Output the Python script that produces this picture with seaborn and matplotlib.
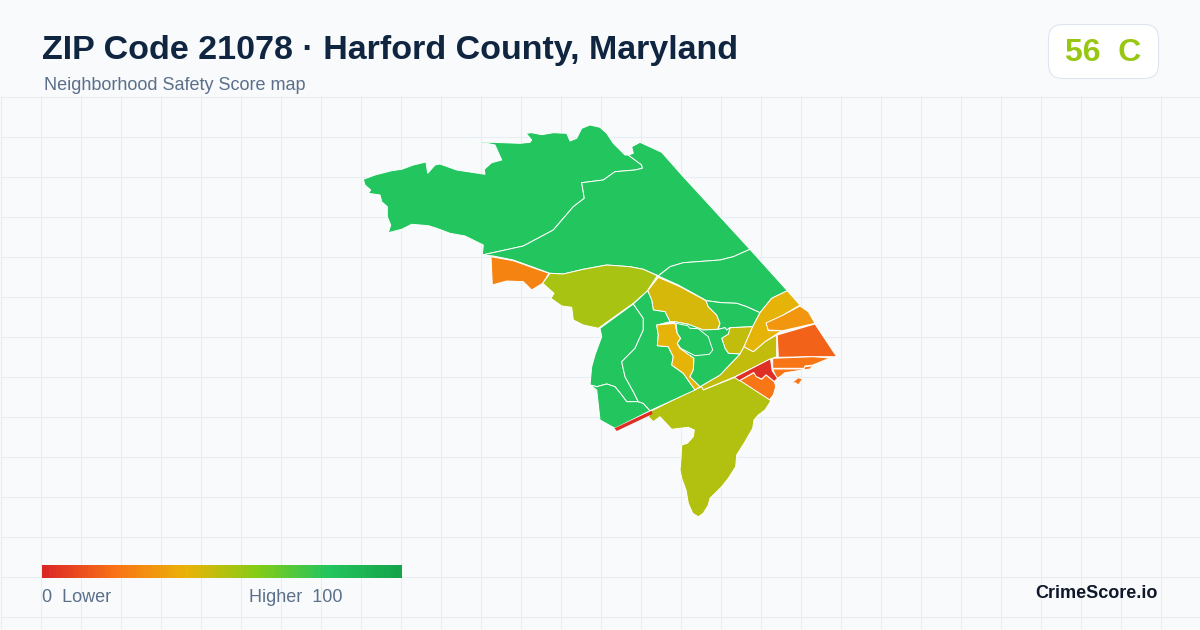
import numpy as np
import matplotlib
matplotlib.use("Agg")
import matplotlib.pyplot as plt
from matplotlib.patches import FancyBboxPatch, Rectangle
import seaborn as sns

# map outlines, in picture pixels
north_west = [(363.3,179.3),(375,175),(391.7,170.7),(401.7,169.3),(413.3,165),(426,162),(427.7,173.3),(435,165),(440,164),(456.7,170),(485,174.3),(484.3,169.3),(491.7,162.7),(501.7,160),(495,145),(486.7,143.3),(476,143.3),(481.7,142),(503.3,142.7),(520,143.3),(530,142.3),(531.7,140),(526,133.3),(531.7,132.7),(541.7,134.7),(553.3,132.7),(566.7,133.3),(570,141),(576.7,138.3),(581.7,128.3),(590,125),(600,127.3),(606.7,133.3),(613.3,143.3),(625,155),(628.3,155),(641.7,165),(642.3,168.3),(635,170),(615,171.7),(603.3,180),(581.7,182.7),(584.3,198.3),(573.3,206.7),(553.3,230),(523.3,246),(482.3,255),(483.3,245),(465,236),(450,233.3),(436.7,228.3),(428.3,225.7),(411.7,224.3),(401.7,229.3),(388.3,232.7),(390.7,225),(387.3,216.7),(387.3,206.7),(381.7,201.7),(380,195),(368.3,193.3),(370.7,190),(365,185)]
north_east = [(628.3,155),(633.3,153.3),(631.7,146.7),(640,142.3),(661.7,152.3),(683.3,176.7),(750,249.3),(733.3,256.7),(720,260),(683.3,262.7),(670,266.7),(658.3,275.7),(643.3,269.3),(630,266.7),(606.7,265),(583.3,269.3),(563.3,274),(550,273.3),(530,266),(513.3,260),(493.3,256),(482.3,255),(523.3,246),(553.3,230),(573.3,206.7),(584.3,198.3),(581.7,182.7),(603.3,180),(615,171.7),(635,170),(642.3,168.3),(641.7,165)]
west_orange = [(491,256.7),(513.3,260.7),(530,266.7),(549,273.3),(542.7,283.3),(531.7,290),(523.3,281.7),(506.7,281),(492.3,285)]
west_olive = [(550,273.3),(563.3,274),(583.3,269.3),(606.7,265),(630,266.7),(643.3,269.3),(657.3,275.7),(646.7,291.7),(633.3,303.3),(598.3,328.3),(583.3,325),(573.3,320),(571.7,307.3),(561.7,306),(551,298.3),(554,293.3),(542.7,283.3)]
east_green = [(658.3,276),(670,266.7),(683.3,262.7),(720,260),(733.3,256.7),(750,249.3),(787.3,290.7),(771.7,298.3),(760,312.7),(746.7,306.7),(736.7,303.3),(721.7,302.7),(706.7,300.7),(678.3,285)]
mid_gold = [(658.3,277.3),(680,286.7),(706,300.7),(708.3,306.7),(716.7,315),(720,323.3),(717.7,329.3),(703.3,330),(688.3,324.3),(675,321.7),(670,321.7),(665,311.7),(653.3,310),(651.7,300),(647.7,290.7)]
mid_green = [(706,300.7),(721.7,302.7),(736.7,303.3),(746.7,306.7),(760,312.7),(752.7,326.7),(730,327.7),(726.7,330),(725,327.7),(718.3,329.3),(720,323.3),(716.7,315),(708.3,306.7)]
centre_olive = [(730,327.7),(752.7,326.7),(744,346.7),(740,354),(728.3,353.3),(725,348.3),(721.7,338.3),(728.3,334)]
strip_olive = [(776.7,335),(776.7,356.7),(770,359.3),(735,376.7),(701.7,390.7),(700,386.7),(720,375),(740,354),(744,346.7),(753.3,351.7),(765,341.7)]
east_gold = [(787.3,290.7),(800,305),(783.3,315),(766.7,323.3),(768.3,330.7),(781.7,330.7),(765,341.7),(753.3,351.7),(744,346.7),(752.7,326.7),(760,312.7),(771.7,298.3)]
east_amber = [(800,306),(808.3,311.7),(815,323.3),(782.7,330.7),(768.3,330),(766,323),(783.3,315)]
east_point = [(815,324),(836.7,356.7),(810,356.7),(778.3,357.3),(777.3,335),(796.7,329.3)]
coast_upper = [(772.7,358.3),(813.3,356.7),(830,358),(813,365),(805,366),(804,368.3),(772.7,368.3)]
coast_lower = [(772.7,369),(804,369),(805,366.7),(812.7,365.7),(810,369),(798.3,370.7),(785,372.7),(780,376.7),(776.7,378.3)]
coast_orange = [(739.3,380.7),(754,372.7),(756.7,376.7),(761.7,379.3),(766,375),(774.3,381.7),(775.7,386.7),(773.3,395),(769.3,400),(735,378.3)]
coast_red = [(734.5,377.3),(770.5,358.8),(772.2,370.7),(777.5,378.3),(774.3,381.5),(766,374.8),(761.7,379),(756.2,376.5),(753.7,372.5),(739.3,380.7)]
island = [(793.3,382.3),(798.3,378.3),(801.7,379.3),(798.3,384.3),(795.7,382.3)]
south_neck = [(735,377.3),(771,400.7),(765,410),(758.3,415),(754,420),(752.7,428.3),(745,441.7),(736.7,455),(735.7,466.7),(728.3,478.3),(721.7,486.7),(710,498.3),(708.3,505),(703.3,513.3),(698.3,516.7),(692.7,513.3),(688.3,503.3),(686,490),(681.7,478.3),(680,470),(681,458.3),(681.7,445),(687.3,443.3),(693.3,436.7),(694.3,430),(688.3,427.3),(671.7,429.3),(660,416.7),(653.3,421.7),(648.3,416.7),(651.7,410.7),(691.7,390.7),(701.7,386.7),(703.3,390)]
south_sliver = [(614.5,428.3),(651.7,410.7),(652.5,414),(616.7,431)]
south_west = [(600,328.3),(633.3,304),(643.3,318.3),(643.3,330),(635,348.3),(621.7,361.7),(625,376.7),(633.3,391.7),(638.3,401.7),(626.7,401.7),(621.7,395),(615,386.7),(606.7,384),(596.7,386.7),(590,385),(591.7,366.7),(595,355),(601.7,336.7)]
south_tip = [(590,385),(596.7,386.7),(606.7,384),(615,386.7),(621.7,395),(626.7,401.7),(638.3,401.7),(643.3,403.3),(650,410.7),(615,428.3),(600,420),(596.7,390)]
inner_west = [(633.3,304),(647.7,290.7),(651.7,300),(653.3,310),(665,311.7),(670,321.7),(656.7,325),(658.3,335),(657.3,345.7),(668.3,346.7),(673.3,356.7),(671.7,365),(683.3,373.3),(695,390),(650,410.7),(643.3,403.3),(638.3,401.7),(633.3,391.7),(625,376.7),(621.7,361.7),(635,348.3),(643.3,330),(643.3,318.3)]
inner_gold = [(656.7,325),(675,323.3),(677.3,333.3),(680.7,338.3),(677.3,343.3),(680,348.3),(694,358.3),(693.3,370),(690,376.7),(700,386.7),(695,390),(683.3,373.3),(671.7,365),(673.3,356.7),(668.3,346.7),(657.3,345.7),(658.3,335)]
inner_east = [(675,323.3),(675,321.7),(688.3,324.3),(703.3,330),(718.3,329.3),(725,327.7),(726.7,330),(730,327.7),(728.3,334),(721.7,338.3),(725,348.3),(728.3,353.3),(740,354),(720,375),(700,386.7),(690,376.7),(693.3,370),(694,358.3),(680,348.3),(677.3,343.3),(680.7,338.3),(677.3,333.3)]
inner_core = [(676,323.3),(687.7,325.7),(690,328.3),(698.3,328.7),(708.3,336.7),(712.7,350),(709.3,354.3),(695,355.7),(680.7,348.3),(677.3,343.3),(680.7,338.3),(677.3,333.3)]

regions = [north_west, north_east, west_orange, west_olive, east_green, mid_gold, mid_green,
           centre_olive, strip_olive, east_gold, east_amber, east_point, coast_upper, coast_lower,
           coast_orange, south_neck, south_west, south_tip,
           inner_west, inner_gold, inner_east, inner_core, coast_red]
region_scores = [80, 80, 25, 53, 80, 44, 80,
                 48, 48, 41, 31, 16, 21, 21,
                 21, 51, 80, 80,
                 80, 41, 80, 80, 2]
# too small to carry a white outline
small_parts = [island, south_sliver]
small_scores = [21, 2]

scale_stops = ["#dc2626", "#f97316", "#eab308", "#84cc16", "#22c55e", "#16a34a"]
scale_values = np.arange(0, 101)
overall_score = 56
overall_grade = "C"

bg = "#f8fafc"
title_col = "#0f2540"
muted = "#5b6f8a"

sns.set_theme(style="whitegrid", rc={
    "axes.facecolor": bg,
    "figure.facecolor": bg,
    "grid.color": "#e6eef3",
    "grid.linewidth": 0.8,
    "axes.edgecolor": bg,
})
plt.rcParams["font.family"] = ["Liberation Sans", "DejaVu Sans"]

cmap = sns.blend_palette(scale_stops, n_colors=256, as_cmap=True)

fig = plt.figure(figsize=(12, 6.3), dpi=100)
ax = fig.add_axes([0, 0, 1, 1])
ax.set_xlim(0, 1200)
ax.set_ylim(630, 0)
ax.set_xticks(np.arange(0.5, 1200, 40))
ax.set_yticks(np.arange(96.5, 630, 40))
ax.tick_params(length=0, labelbottom=False, labelleft=False)
ax.set_axisbelow(True)

# no grid behind the header
ax.add_patch(Rectangle((0, 0), 1200, 96, facecolor=bg, edgecolor="none", zorder=1))

for shape, score in zip(regions, region_scores):
    xs, ys = zip(*shape)
    ax.fill(xs, ys, facecolor=cmap(score / 100), edgecolor="white", linewidth=0.7, zorder=2)
for shape, score in zip(small_parts, small_scores):
    xs, ys = zip(*shape)
    ax.fill(xs, ys, facecolor=cmap(score / 100), edgecolor="none", zorder=2)

ax.text(42, 50, "ZIP Code 21078 · Harford County, Maryland", fontsize=24.5, fontweight="bold",
        color=title_col, va="center", ha="left", zorder=3)
ax.text(44, 86, "Neighborhood Safety Score map", fontsize=13, color=muted, va="center", ha="left", zorder=3)

# score badge
ax.add_patch(FancyBboxPatch((1048.5, 24.5), 110, 54, boxstyle="round,pad=0,rounding_size=14",
                            facecolor="white", edgecolor="#dfe5ee", linewidth=0.8, zorder=2))
ax.text(1103, 53, f"{overall_score}  {overall_grade}", fontsize=23, fontweight="bold",
        color=cmap(overall_score / 100), va="center", ha="center", zorder=3)

# legend
ax_bar = fig.add_axes([42 / 1200, 1 - 578 / 630, 360 / 1200, 13 / 630])
sns.heatmap(scale_values[np.newaxis, :], cmap=cmap, vmin=0, vmax=100, cbar=False,
            xticklabels=False, yticklabels=False, ax=ax_bar)

ax.text(42, 597, "0  Lower", fontsize=13, color=muted, va="center", ha="left", zorder=3)
ax.text(249, 597, "Higher  100", fontsize=13, color=muted, va="center", ha="left", zorder=3)
ax.text(1158, 593, "CrimeScore.io", fontsize=13, fontweight="bold", color="#0f172a",
        va="center", ha="right", zorder=3)

fig.savefig("out.png", dpi=100, facecolor=bg)
